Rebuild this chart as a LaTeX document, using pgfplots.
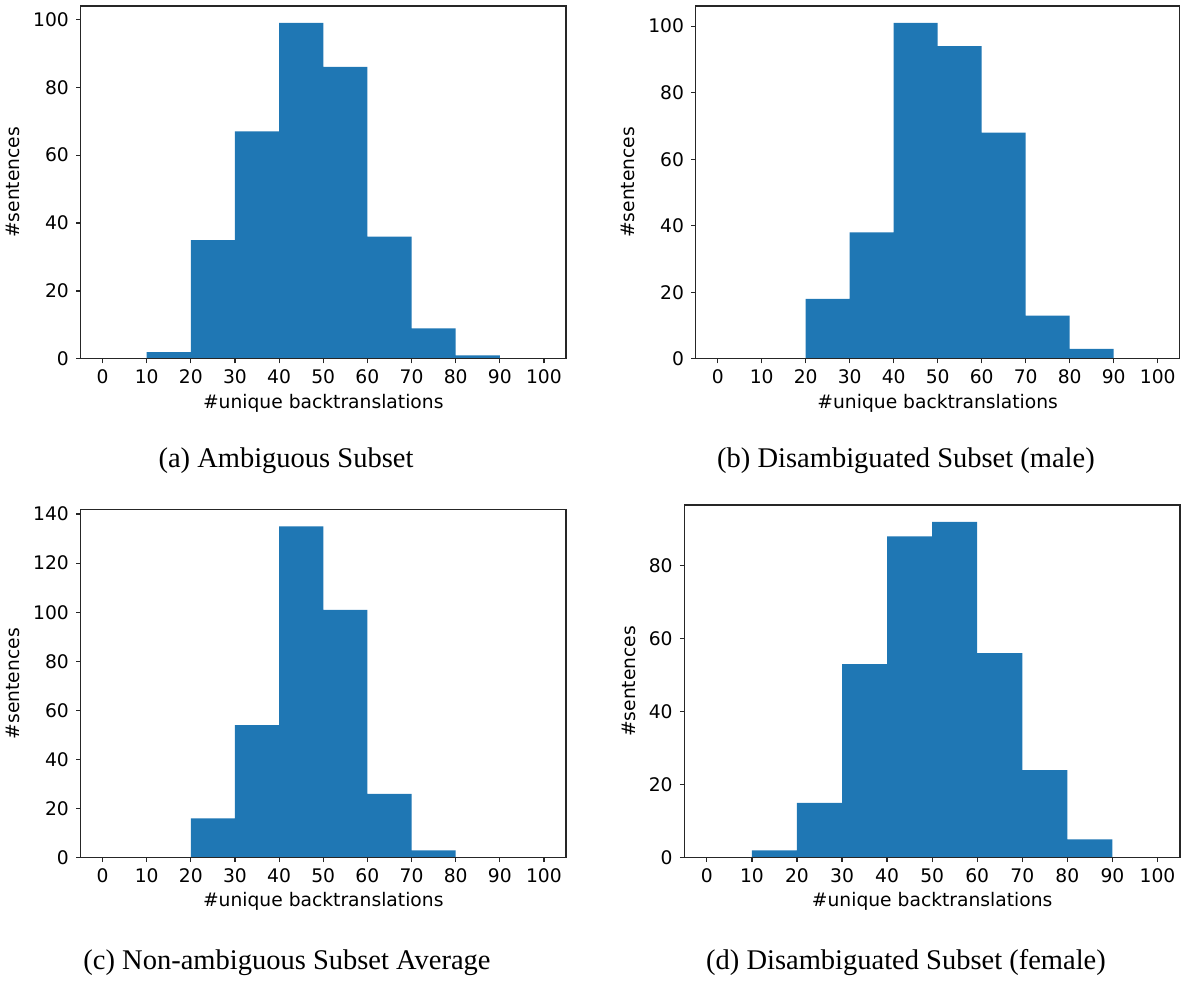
\documentclass[border=0pt]{standalone}
\usepackage{fontspec}
\setmainfont{DejaVu Sans}
\newfontfamily\capfont{Liberation Serif}
\usepackage{pgfplots}
\pgfplotsset{compat=1.18}
\definecolor{mplblue}{HTML}{1F77B4}
\pgfplotsset{
  histo/.style={
    scale only axis,
    anchor=south west,
    xmin=-5, xmax=105,
    ymin=0,
    xtick={0,10,...,100},
    tick pos=left,
    tick align=outside,
    major tick length=4.5pt,
    every tick/.style={black!85, line width=1.2pt},
    axis line style={black!85, line width=1.2pt},
    axis on top,
    /pgf/number format/assume math mode=true,
    ticklabel style={font=\fontsize{18.7}{22}\selectfont, inner sep=6pt},
    yticklabel style={inner sep=7pt},
    label style={font=\fontsize{18.7}{22}\selectfont},
    xlabel={\#unique backtranslations},
    ylabel={\#sentences},
    xlabel style={inner sep=4pt},
    ylabel style={inner sep=6pt},
  },
  bars/.style={ybar interval, fill=mplblue, draw=none},
}
\begin{document}
\begin{tikzpicture}
\useasboundingbox (0pt,0pt) rectangle (1186pt,-980pt);
% (a)
\begin{axis}[histo, at={(80.5pt,-358.8pt)}, width=485.5pt, height=352.8pt,
  ymax=103.95, ytick={0,20,...,100}]
\addplot[bars] coordinates {(0,0) (10,2) (20,35) (30,67) (40,99) (50,86) (60,36) (70,9) (80,1) (90,0) (100,0)};
\end{axis}
% (b)
\begin{axis}[histo, at={(695.7pt,-358.8pt)}, width=484pt, height=352.8pt,
  ymax=106.05, ytick={0,20,...,100}]
\addplot[bars] coordinates {(0,0) (10,0) (20,18) (30,38) (40,101) (50,94) (60,68) (70,13) (80,3) (90,0) (100,0)};
\end{axis}
% (c)
\begin{axis}[histo, at={(80.5pt,-857.7pt)}, width=485.5pt, height=348pt,
  ymax=141.75, ytick={0,20,...,140}]
\addplot[bars] coordinates {(0,0) (10,0) (20,16) (30,54) (40,135) (50,101) (60,26) (70,3) (80,0) (90,0) (100,0)};
\end{axis}
% (d)
\begin{axis}[histo, at={(684.3pt,-857.7pt)}, width=495.7pt, height=352.7pt,
  ymax=96.6, ytick={0,20,...,80}]
\addplot[bars] coordinates {(0,0) (10,2) (20,15) (30,53) (40,88) (50,92) (60,56) (70,24) (80,5) (90,0) (100,0)};
\end{axis}
\node[font=\capfont\fontsize{28.5}{32}\selectfont] at (286pt,-461pt) {(a) Ambiguous Subset};
\node[font=\capfont\fontsize{28.5}{32}\selectfont] at (906pt,-461pt) {(b) Disambiguated Subset (male)};
\node[font=\capfont\fontsize{28.5}{32}\selectfont] at (287pt,-963pt) {(c) Non-ambiguous Subset Average};
\node[font=\capfont\fontsize{28.5}{32}\selectfont] at (906pt,-963pt) {(d) Disambiguated Subset (female)};
\end{tikzpicture}
\end{document}
